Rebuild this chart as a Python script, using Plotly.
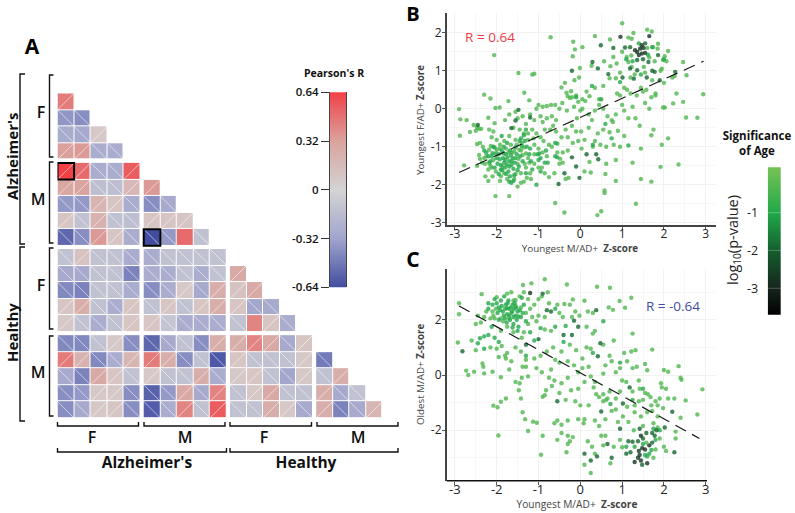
import numpy as np
import plotly.graph_objects as go

W, H = 795, 513

# ---------- Panel A: correlation matrix (lower triangle) ----------
R_rows = [
 [0.45],
 [-0.37,-0.4],
 [-0.27,-0.29,0.08],
 [0.33,0.35,-0.26,-0.26],
 [0.64,0.5,-0.26,-0.26,0.55],
 [0.3,0.32,-0.14,-0.14,0.18,0.35],
 [-0.36,-0.36,0.2,0.1,-0.26,-0.4,-0.28],
 [0.1,-0.12,0.22,-0.12,-0.14,0.1,0.1,0.1],
 [-0.54,-0.4,0.35,0.1,-0.26,-0.64,-0.36,0.5,-0.12],
 [-0.12,0.12,-0.12,-0.12,-0.26,-0.26,-0.12,-0.12,-0.12,-0.12],
 [-0.28,-0.28,-0.12,-0.12,-0.44,-0.26,-0.26,-0.12,-0.26,-0.12,0.28],
 [-0.42,-0.44,-0.12,-0.12,-0.26,-0.4,-0.26,0.08,-0.28,0.25,0.12,0.28],
 [0.1,0.25,-0.12,-0.26,0.1,-0.12,0.1,-0.12,0.1,0.25,0.1,-0.3,-0.28],
 [0.08,-0.12,-0.26,-0.12,0.1,0.1,-0.1,-0.26,-0.26,-0.26,-0.12,0.42,0.1,-0.26],
 [-0.42,-0.42,-0.12,0.08,-0.4,-0.54,-0.28,-0.12,-0.4,0.25,0.25,0.42,0.28,-0.28,0.1],
 [0.45,0.22,-0.42,-0.26,0.2,0.45,0.25,-0.4,-0.12,-0.6,0.1,-0.12,-0.12,-0.12,0.08,-0.47],
 [-0.28,-0.44,0.28,0.1,-0.12,0.08,-0.12,-0.12,0.25,-0.26,0.08,0.1,-0.12,-0.3,0.08,-0.12,0.25],
 [-0.4,-0.36,0.08,0.08,-0.4,-0.56,-0.36,0.28,-0.28,0.42,-0.12,0.08,0.28,-0.12,-0.12,0.25,-0.28,-0.12],
 [-0.4,-0.28,0.08,0.1,-0.4,-0.58,-0.26,0.42,-0.12,0.55,-0.12,-0.12,0.25,0.08,-0.28,0.25,-0.44,-0.28,0.2],
]
row_blocks = [(0,4),(4,9),(9,14),(14,19)]
col_blocks = [(0,5),(5,10),(10,15),(15,19)]
no_diagonal = [(8,7),(13,11)]
highlighted = [(4,0),(8,5)]
R_ramp_ticks = [-0.64,-0.32,0,0.32,0.64]
R_ramp_labels = ["-0.64","-0.32","0","0.32","0.64"]
P_ticks = [-1,-2,-3]
P_labels = ["-1","-2","-3"]

# ---------- Panels B and C: scatter values (x, y) by significance class ----------
b_black = [(1.36,1.49),(1.43,1.58),(1.51,1.6),(1.47,1.45),(1.55,1.47),(1.65,1.91),(1.31,1.54),(0.96,1.89),(1.47,1.67),(1.4,1.41)]
b_dark = [(1.19,1.62),(1.07,1.61),(1.36,1.28),(1.63,1.23),(1.19,1.06),(1.36,1.01),(1.59,0.82),(1.28,0.79),(1.01,0.82),
 (0.67,0.91),(0.42,1.06),(0.29,1.23),(0.49,1.67),(0.79,1.6),(-0.2,1.0),(1.78,0.97),(1.86,1.41),(2.27,0.97),(1.9,0.75),
 (-1.48,-0.03),(-1.55,-0.31),(-1.2,-0.23),(-2.45,-0.43),(-1.65,-0.51),(0.15,-1.2),(0.38,-1.2),(0.43,-1.33),(-0.2,-1.28),
 (-0.1,-1.52),(-0.52,-1.98),(-0.02,-1.82),(-0.38,-1.7),(1.5,1.3),(1.72,1.0),(1.55,1.72)]
b_mid = [(-2.3,-1.1),(-2.2,-1.25),(-2.15,-1.38),(-2.1,-1.17),(-2.05,-1.02),(-2.0,-1.3),(-1.98,-1.45),(-1.95,-1.2),(-1.9,-1.6),
 (-1.88,-1.1),(-1.85,-1.3),(-1.82,-1.42),(-1.8,-1.55),(-1.78,-1.2),(-1.75,-0.9),(-1.72,-1.65),(-1.7,-1.38),(-1.68,-1.1),
 (-1.65,-1.48),(-1.62,-1.3),(-1.6,-1.9),(-1.58,-1.75),(-1.55,-1.02),(-1.52,-1.2),(-1.5,-1.62),(-1.45,-0.85),(-1.42,-0.78),
 (-1.38,-1.38),(-1.35,-0.7),(-1.3,-0.55),(-1.2,-1.05),(-1.15,-1.6),(-1.05,-2.0),(-1.0,-1.35),(-0.95,-1.3),(-0.85,-1.42),
 (-0.82,-1.1),(-0.78,-1.42),(-0.6,-1.25),(-0.55,-1.28),(-0.6,-0.9),(-0.55,-0.92),(-1.7,-1.92),(-1.65,-1.95),(-1.95,-1.72),
 (-2.08,-1.0),(-1.88,-0.72),(-1.3,-1.7),(-0.95,-1.65),(0.95,0.7),(1.1,1.3),(0.75,-0.78),(0.5,0.25),(0.3,-0.95),(-0.1,0.3),
 (1.15,-0.97),(1.45,0.9),(1.72,1.62),(2.0,1.3),(1.25,1.25),(0.28,0.6),(0.6,-0.4),(1.4,1.72),(1.62,1.42),
 (-2.12,-1.25),(-2.02,-1.18),(-1.93,-1.33),(-1.9,-1.48),(-1.84,-1.18),(-1.8,-1.35),(-1.76,-1.47),(-1.74,-1.28),(-1.7,-1.52),(-1.66,-1.22),
 (-1.64,-1.38),(-1.6,-1.58),(-1.57,-1.42),(-1.55,-1.3),(-1.47,-1.52),(-1.44,-1.25),(-1.4,-0.98),(-1.33,-0.85),(-1.28,-1.0),(-1.22,-1.2),
 (-1.18,-1.38),(-1.02,-1.2),(-0.98,-1.18),(-2.25,-1.15),(-2.18,-1.42),(-2.05,-1.55),(-1.87,-1.62),(-1.77,-1.72),(-1.68,-1.78),(-1.83,-1.0)]
b_light = [(-2.9,-0.01),(-2.87,-0.28),(-2.88,-0.71),(-2.72,-0.3),(-2.64,-0.61),(-2.55,-0.43),(-2.47,-0.5),(-2.5,-0.58),(-2.42,-0.53),
 (-2.37,-0.53),(-2.47,-0.93),(-2.4,-0.9),(-2.33,-1.0),(-2.78,-1.49),(-2.47,-1.5),(-2.35,-1.42),(-2.3,0.37),(-2.15,0.27),(-2.2,-0.24),
 (-2.18,-0.55),(-2.03,0.02),(-2.08,-0.6),(-2.12,-0.75),(-2.05,-0.38),(-2.14,-0.98),(-2.27,-1.78),(-2.2,-1.9),(-2.03,-2.3),(-2.06,1.41),
 (-1.93,0.03),(-1.72,0.2),(-1.8,-0.3),(-1.7,-0.15),(-1.55,-0.08),(-1.48,0.94),(-1.34,0.42),(-1.22,0.22),(-1.15,0.9),(-1.1,0.92),
 (-1.5,-0.25),(-1.38,-0.2),(-1.3,-0.4),(-1.2,-0.15),(-1.1,-0.3),(-1.05,0.0),(-1.0,0.1),(-0.95,-0.2),(-0.9,-0.35),(-1.6,-0.5),
 (-1.45,-0.55),(-1.35,-0.65),(-1.15,-0.55),(-1.05,-0.65),(-0.95,-0.75),(-0.85,-0.55),(-0.71,1.88),(-0.8,0.07),(-0.7,0.1),(-0.6,0.1),
 (-0.5,0.0),(-0.43,0.15),(-0.3,0.33),(-0.25,0.28),(-0.2,0.3),(-0.1,0.35),(-0.45,0.56),(-0.37,0.68),(-0.33,0.42),(-0.22,0.46),
 (-0.14,0.75),(-0.03,0.82),(0.35,1.91),(-0.17,1.76),(0.05,1.62),(-0.13,1.56),(-0.18,1.38),(-0.01,1.07),(0.27,1.13),(0.57,1.25),
 (0.79,1.36),(0.87,1.19),(0.71,1.82),(1.0,2.25),(1.15,1.87),(1.27,1.99),(1.23,1.84),(1.6,2.08),(1.71,2.03),(1.11,1.36),(1.15,1.23),
 (1.23,1.1),(2.1,1.52),(2.02,1.38),(1.98,1.28),(2.06,1.25),(1.86,1.71),(1.74,1.62),(2.46,1.23),(2.54,0.88),(2.26,0.86),(2.3,0.4),
 (2.22,0.14),(2.46,0.18),(2.02,0.03),(1.98,0.03),(2.53,-0.23),(2.8,-0.24),(2.94,0.38),(2.35,-1.47),(1.95,-0.95),(2.1,-0.78),(1.92,-1.53),
 (1.7,-0.7),(1.7,-1.92),(1.45,-1.85),(1.45,-1.05),(1.33,-2.5),(1.25,-1.42),(0.85,-1.9),(0.85,-1.35),(0.62,-1.45),(0.6,-1.72),(0.58,-2.15),
 (0.58,-2.22),(0.5,-2.7),(0.41,-2.8),(-0.38,-2.73),(-0.6,-2.48),(0.1,-1.65),(0.25,-1.68),(0.3,-1.0),(0.35,-0.85),(0.1,-0.82),(0.02,-0.6),
 (-0.2,-0.45),(-0.35,-0.55),(-0.45,-0.75),(-0.5,-1.45),(-0.3,-1.1),(-0.18,-0.9),(-0.42,-1.15),(-0.58,-0.3),(-0.72,-0.55),(-0.65,-0.45),
 (-0.8,-0.25),(-0.88,-0.85),(-0.75,-0.95),(-0.68,-1.0),(-0.62,-1.7),(-0.48,-1.32),(0.0,-0.05),(0.05,0.0),(0.12,0.2),(0.2,-0.15),(0.28,-0.3),
 (0.35,-0.05),(0.45,0.1),(0.55,0.0),(0.65,-0.2),(0.75,-0.3),(0.85,-0.15),(0.95,0.35),(1.0,0.1),(1.05,-0.05),(1.15,-0.25),(1.25,0.05),
 (1.32,-0.25),(1.42,-0.45),(1.55,0.15),(1.65,0.0),(1.75,-0.55),(1.8,0.35),(1.58,0.5),(1.45,0.55),(1.35,0.35),(1.12,0.5),(1.05,0.55),
 (0.95,0.95),(0.85,0.8),(0.7,0.8),(0.55,0.6),(0.45,0.25),(0.35,0.55),(0.15,0.45),(0.22,0.33),(0.05,0.25),(-0.05,0.18),(-0.15,0.05),
 (-0.08,-0.25),(0.2,-0.5),(0.42,-0.65),(0.55,-0.55),(0.7,-0.62),(0.8,-0.95),(0.95,-1.0),(1.05,-0.72),(0.9,-0.58),(0.78,-0.35),(0.62,-1.0),
 (0.48,-0.95),(0.22,-1.4),(0.03,-1.05),(-0.05,-0.85),(-0.3,-0.75),(-0.1,-0.6),(-0.32,-0.05),(-0.58,-0.6),(-0.68,-0.2),(-0.9,0.05),
 (-1.25,-0.65),(-1.4,-0.9),(-1.25,-0.82),(-1.1,-0.95),(-1.0,-1.05),(-1.1,-1.2),(-1.25,-1.3),(-1.1,-1.45),(-1.0,-1.55),(-1.2,-1.7),(-1.3,-1.55),
 (-1.42,-1.7),(-1.5,-1.45),(-1.42,-1.1),(-1.35,-1.02),(-1.55,-1.72),(-1.5,-2.05),(-1.42,-1.95),(-1.35,-1.92),(-1.7,-2.3),(-1.82,-1.7),
 (-1.92,-1.9),(-2.02,-1.65),(-2.1,-1.78),(-2.12,-1.55),(-2.2,-1.6),(-2.28,-1.45),(-2.25,-1.25),(-2.42,-1.22),(-2.3,-1.3),(-2.18,-1.08),
 (-2.0,-0.82),(-1.92,-0.95),(-1.82,-0.85),(-1.7,-0.72),(-1.55,-0.82),(-1.62,-1.15),(-1.48,-1.32),(-1.3,-1.18),(-1.22,-1.42),(-0.9,-1.15),
 (-0.8,-1.25),(-0.92,-1.55),(-0.85,-1.7),(-0.75,-1.8),(-0.35,-1.85),(-0.28,-1.82),(-0.55,-1.15),(-0.42,-1.42),(1.2,0.82),(1.52,1.1),
 (1.78,1.25),(1.92,1.0),(1.72,0.75),(1.55,0.95),(2.0,0.68),(2.2,0.82),(1.2,0.4),(1.3,0.9),(0.88,0.4),(0.72,1.12),(1.0,1.5),(1.22,1.4),
 (1.65,1.35),(1.85,1.58),(1.95,1.05),(1.6,1.6),(1.8,0.4),(1.7,0.3),(1.5,0.45),
 (-2.4,-1.32),(-2.15,-1.5),(-2.08,-1.35),(-2.0,-1.08),(-1.93,-1.05),(-1.86,-1.52),(-1.78,-1.05),(-1.72,-1.15),(-1.66,-0.95),(-1.58,-1.12),
 (-1.52,-0.95),(-1.46,-1.08),(-1.38,-1.22),(-1.33,-1.45),(-1.28,-1.82),(-1.18,-1.85),(-1.12,-0.78),(-1.58,-1.85),(-1.75,-1.85),(-1.9,-1.78)]

c_black = [(1.4,-2.75),(1.48,-2.65),(1.55,-2.7),(1.38,-3.0),(1.45,-3.1),(1.3,-3.15),(1.42,-2.9),(1.6,-3.2),(1.65,-2.55),(-1.2,2.97),(1.45,-2.2)]
c_dark = [(1.15,-2.4),(1.25,-2.42),(1.38,-2.4),(1.2,-2.8),(1.1,-2.85),(1.5,-2.3),(1.58,-2.1),(1.72,-2.1),(1.82,-2.0),(1.78,-2.2),
 (2.25,-2.8),(2.2,-1.33),(2.02,-1.9),(1.42,-1.95),(1.72,-2.45),(1.48,-3.25),(0.95,-1.95),(1.02,-1.03),(0.65,-2.5),(0.75,-3.0),(0.4,-2.95),
 (0.1,-2.85),(0.25,-3.1),(-0.8,2.35),(-0.9,2.95),(-0.7,2.3),(-0.15,1.97),(-0.2,1.45),(-0.05,1.75),(-1.0,1.3),(-2.82,0.86),(-1.3,1.1),
 (-0.4,1.45),(0.38,2.35),(0.48,1.15),(0.42,0.68),(0.5,-1.32),(-0.55,-0.95),(1.18,-0.45)]
c_mid = [(-2.2,2.4),(-2.1,2.55),(-2.05,2.75),(-1.98,2.25),(-1.95,2.45),(-1.9,2.7),(-1.85,2.3),(-1.82,2.85),(-1.8,2.05),(-1.78,2.55),
 (-1.75,2.2),(-1.72,2.7),(-1.7,2.4),(-1.68,2.0),(-1.65,2.25),(-1.62,2.55),(-1.6,1.85),(-1.58,2.4),(-1.55,2.15),(-1.52,2.0),(-1.5,2.3),
 (-1.48,1.75),(-1.42,2.1),(-1.4,2.8),(-1.35,2.55),(-1.3,1.95),(-2.3,1.4),(-2.2,1.45),(-2.12,1.75),(-2.05,1.35),(-1.95,1.2),(-2.45,1.15),
 (-2.4,1.33),(-2.3,0.95),(-1.2,1.55),(-1.1,1.25),(-0.95,1.7),(-0.6,2.4),(-0.6,1.75),(-0.4,1.2),(-0.35,1.78),(0.55,1.95),(1.8,-2.35),
 (1.9,-2.0),(1.65,-2.85),(1.55,-2.9),(1.7,-2.72),(1.3,-2.6),(1.1,-2.6),(0.72,-1.05),(0.95,0.45),(1.5,-0.5),(1.25,-0.9),(0.3,0.8),(-1.3,0.7),
 (-2.0,2.6),(-1.92,2.35),(-1.88,2.5),(-1.83,2.15),(-1.76,2.42),(-1.74,2.6),(-1.7,2.15),(-1.66,2.45),(-1.63,2.3),(-1.6,2.1),(-1.57,2.6),
 (-1.53,2.45),(-1.48,2.12),(-1.45,2.35),(-1.38,2.25),(-2.2,2.6),(-1.95,2.0),(-1.76,1.9),(-1.62,1.72),(-1.5,1.6),(1.5,-2.5),(1.6,-2.95),(1.75,-1.95)]
c_light = [(-0.85,3.47),(-1.17,3.32),(-1.37,3.26),(-0.32,3.28),(0.4,3.2),(0.71,3.16),(1.22,2.8),(0.94,2.68),(1.07,2.44),(0.68,2.45),(0.78,2.36),
 (0.1,2.69),(-0.18,2.74),(-0.38,2.57),(-2.9,2.6),(-2.9,2.2),(-2.36,2.93),(-2.93,1.18),(-2.73,0.16),(-2.68,0),(-2.54,0.12),(-2.3,0.06),
 (-2.34,0.42),(-2.32,0.3),(-2.1,0.12),(-1.9,-0.08),(-2.08,-1.11),(-1.98,-1.17),(-1.96,-2.19),(-1.9,-0.97),(-1.78,-0.85),(-1.45,-0.3),
 (-1.47,-0.55),(-1.42,-0.85),(-1.38,-1.35),(-1.32,-1.6),(-1.13,-1.69),(-1.04,-1.73),(-1.25,-2.03),(-0.9,-2.2),(-0.94,-2.89),(-0.9,-0.79),
 (-0.85,-0.73),(-0.82,-0.55),(-2.5,1.85),(-2.45,2.15),(-2.38,1.9),(-2.3,2.1),(-2.25,2.3),(-2.15,2.05),(-2.08,2.15),(-2.02,2.4),(-2.0,2.82),
 (-1.9,2.05),(-1.85,1.95),(-1.75,2.95),(-1.65,3.0),(-1.55,2.72),(-1.45,2.85),(-1.35,3.0),(-1.25,2.75),(-1.2,2.4),(-1.1,2.55),(-1.0,2.75),
 (-0.92,2.85),(-0.78,3.0),(-0.75,2.6),(-0.85,2.1),(-1.0,2.15),(-1.15,2.1),(-1.3,2.25),(-1.25,1.85),(-1.05,1.95),(-0.85,1.65),(-0.7,1.6),
 (-0.55,2.55),(-0.5,2.25),(-0.42,2.1),(-0.25,2.55),(-0.2,2.1),(-0.12,2.3),(-0.02,2.15),(0.18,2.3),(0.3,2.25),(0.15,1.75),(0.3,1.5),(0.35,1.6),
 (0.55,1.1),(0.7,0.7),(0.8,1.25),(1.05,0.8),(1.22,0.85),(1.32,0.9),(1.25,1.5),(1.72,0.92),(0.15,1.0),(0.25,0.95),(0.05,0.6),(-0.1,0.9),
 (-0.25,1.1),(-0.45,0.85),(-0.65,1.0),(-0.8,0.85),(-0.95,0.7),(-1.1,0.6),(-1.3,0.55),(-1.3,0.3),(-1.38,0.3),(-1.25,-0.05),(-1.4,-0.1),
 (-1.42,0.85),(-1.55,1.0),(-1.75,0.8),(-1.8,0.7),(-1.78,0.6),(-1.65,0.5),(-1.88,1.05),(-2.0,0.95),(-1.95,0.65),(-1.7,0.2),(-1.55,-0.25),
 (-1.05,0.25),(-0.92,0.1),(-0.7,0.2),(-0.6,0.55),(-0.5,0.45),(-0.3,0.5),(-0.15,0.35),(-0.05,0.1),(0.05,0.25),(0.2,0.3),(0.25,-0.05),(0.35,-0.25),
 (-0.75,-0.1),(-0.68,-0.4),(-0.62,-0.2),(-0.45,-0.3),(-0.3,-0.1),(-0.22,-0.55),(-0.05,-0.5),(0.1,-0.25),(-0.5,-0.65),(-0.35,-0.9),(-0.12,-0.95),
 (0.0,-1.1),(0.2,-1.1),(0.38,-0.7),(0.45,-0.8),(0.55,-0.95),(0.62,-0.9),(0.7,-0.6),(0.75,-1.3),(0.85,-0.85),(0.95,-0.6),(1.0,-0.2),(1.1,-0.25),
 (0.55,0.05),(0.6,0.35),(0.75,0.5),(0.85,0.1),(0.95,0.25),(1.12,0.5),(1.25,0.25),(1.35,0.3),(1.42,-0.5),(1.55,-0.65),(1.62,-0.7),(1.4,-0.95),
 (1.3,-1.1),(1.12,-1.15),(1.02,-1.5),(0.9,-1.7),(0.6,-1.6),(0.45,-1.85),(0.35,-1.65),(-0.05,-1.6),(0.08,-1.75),(0.1,-1.6),(-0.3,-1.65),(-0.55,-1.65),
 (-0.45,-1.8),(-0.62,-1.75),(-0.45,-2.1),(-0.3,-2.2),(-0.25,-2.4),(-0.3,-2.5),(-0.33,-2.8),(-0.18,-2.25),(-0.55,-2.35),(0.18,-2.4),(0.28,-2.6),
 (0.35,-2.85),(0.1,-3.25),(0.25,-3.55),(0.55,-2.55),(0.72,-3.2),(0.8,-2.6),(0.95,-2.35),(1.0,-2.62),(0.5,-2.2),(0.6,-2.2),(1.68,-0.8),(1.72,-1.3),
 (1.75,-1.75),(1.85,-1.5),(1.98,-1.2),(2.1,-0.85),(2.25,-0.85),(2.52,-0.92),(2.4,-1.55),(2.8,-1.43),(2.92,-0.52),(2.4,-0.1),(2.42,-0.17),(2.35,0.32),
 (2.0,0.18),(2.1,0.12),(1.93,-0.3),(1.95,-0.45),(1.8,-0.95),(1.6,0.17),(1.4,-0.2),(1.55,0.4),(2.28,-2.05),(2.28,-2.3),(2.05,-2.75),(2.0,-2.6),(1.8,-2.7),
 (1.75,-3.0),(1.45,-1.5),(1.3,-1.35),(1.15,-1.7),(1.28,-2.0),(1.6,-1.35),(1.7,-1.1),(1.9,-0.85),(2.05,-0.5),(1.5,-0.9),(1.85,-1.9),(1.9,-2.3),
 (1.58,-2.45),(1.5,-1.85),(1.85,-1.1),(1.25,-0.6),(0.85,-1.25),(0.65,-0.85),(0.55,-0.7),(0.32,-0.45),(-1.6,1.55),(-1.75,1.75),(-1.9,1.6),
 (-2.15,1.0),(-2.5,0.9),(-2.6,1.25),(-1.4,1.35),(-1.35,1.55),(-1.6,2.7),(-1.7,2.05),(-1.55,2.5),(-1.42,2.45),(-1.8,2.4),(-2.05,2.05),(-2.1,2.3)]

# class values of log10(p)
P_LIGHT, P_MID, P_DARK, P_BLACK = -0.35, -1.0, -1.9, -2.7

reg_x_B = [-2.9, 2.95]
reg_y_B = [-1.68, 1.25]
reg_x_C = [-2.9, 2.85]
reg_y_C = [2.5, -2.3]

# ---------- helpers ----------
def dx(a, b): return [a / W, b / W]
def dy(top, bottom): return [1 - bottom / H, 1 - top / H]
def px(x): return x / W
def py(y): return 1 - y / H

FONT = "Open Sans"
TXT = "#222222"
r_scale = [[0, "#414da1"], [0.25, "#a0a4cc"], [0.5, "#d4d4d4"], [0.75, "#d9a39e"], [1, "#f24045"]]
g_scale = [[0, "#000000"], [0.18, "#16251b"], [0.44, "#14602e"], [0.69, "#22a84a"], [1, "#76c255"]]
P_MIN, P_MAX = -3.7, 0.2

fig = go.Figure()

GAP = 0.2
def col_pos(c): return c + sum(GAP for _, e in col_blocks[:-1] if c >= e) + 0.5
def row_pos(r): return r + sum(GAP for _, e in row_blocks[:-1] if r >= e) + 0.5
span = 19 + 3 * GAP

for rb in row_blocks:
    for cb in col_blocks:
        z = []
        for r in range(*rb):
            line = []
            for c in range(*cb):
                line.append(R_rows[r][c] if c < len(R_rows[r]) else None)
            z.append(line)
        if all(v is None for l in z for v in l):
            continue
        fig.add_trace(go.Heatmap(z=z, x=[col_pos(c) for c in range(*cb)], y=[row_pos(r) for r in range(*rb)],
                                 coloraxis="coloraxis", xgap=1, ygap=1, hoverinfo="skip", xaxis="x", yaxis="y"))

dxs, dys = [], []
for r, vals in enumerate(R_rows):
    for c, v in enumerate(vals):
        if (r, c) in no_diagonal:
            continue
        x0, y0 = col_pos(c), row_pos(r)
        if v >= 0:
            dxs += [x0 - 0.5, x0 + 0.5, None]; dys += [y0 + 0.5, y0 - 0.5, None]
        else:
            dxs += [x0 - 0.5, x0 + 0.5, None]; dys += [y0 - 0.5, y0 + 0.5, None]
fig.add_trace(go.Scatter(x=dxs, y=dys, mode="lines", line=dict(color="rgba(255,255,255,0.55)", width=1),
                         hoverinfo="skip", showlegend=False, xaxis="x", yaxis="y"))

shapes = []
for r, c in highlighted:
    x0, y0 = col_pos(c), row_pos(r)
    shapes.append(dict(type="rect", xref="x", yref="y", x0=x0 - 0.5, x1=x0 + 0.5, y0=y0 - 0.5, y1=y0 + 0.5,
                       line=dict(color="black", width=2)))

ramp = np.linspace(-0.64, 0.64, 129).tolist()
fig.add_trace(go.Heatmap(z=[[v] for v in ramp], y=ramp, x=[0], coloraxis="coloraxis", hoverinfo="skip", xaxis="x4", yaxis="y4"))

pramp = np.linspace(P_MIN, P_MAX, 100).tolist()
fig.add_trace(go.Heatmap(z=[[v] for v in pramp], y=pramp, x=[0], coloraxis="coloraxis2", hoverinfo="skip", xaxis="x5", yaxis="y5"))
for t in P_ticks:
    shapes.append(dict(type="line", xref="x5", yref="y5", x0=-0.5, x1=0.5, y0=t, y1=t, line=dict(color="rgba(255,255,255,0.25)", width=1)))

def add_scatter(groups, xa, ya):
    xs, ys, ps = [], [], []
    for pts, p in groups:
        for a, b in pts:
            xs.append(a); ys.append(b); ps.append(p)
    fig.add_trace(go.Scatter(x=xs, y=ys, mode="markers", xaxis=xa, yaxis=ya, showlegend=False, hoverinfo="skip",
                             marker=dict(size=4.4, color=ps, coloraxis="coloraxis2", opacity=0.8, line=dict(width=0))))

add_scatter([(b_light, P_LIGHT), (b_mid, P_MID), (b_dark, P_DARK), (b_black, P_BLACK)], "x2", "y2")
add_scatter([(c_light, P_LIGHT), (c_mid, P_MID), (c_dark, P_DARK), (c_black, P_BLACK)], "x3", "y3")
dash = dict(color="#1a1a1a", width=1.2, dash="12px,7px")
fig.add_trace(go.Scatter(x=reg_x_B, y=reg_y_B, mode="lines", line=dash, xaxis="x2", yaxis="y2", showlegend=False, hoverinfo="skip"))
fig.add_trace(go.Scatter(x=reg_x_C, y=reg_y_C, mode="lines", line=dash, xaxis="x3", yaxis="y3", showlegend=False, hoverinfo="skip"))

def path_shape(pts):
    d = "M " + " L ".join(f"{px(a):.5f},{py(b):.5f}" for a, b in pts)
    return dict(type="path", xref="paper", yref="paper", path=d, line=dict(color="#111111", width=1.4))
def lbr(x, t, b, w=4):
    return path_shape([(x + w, t), (x, t), (x, b), (x + w, b)])
def bbr(l, r, t, d=4):
    return path_shape([(l, t), (l, t + d), (r, t + d), (r, t)])

shapes += [lbr(20, 74, 244, 5), lbr(20, 247, 421, 5), lbr(49.5, 75, 157), lbr(49.5, 162, 243), lbr(49.5, 248, 329), lbr(49.5, 336, 416),
           bbr(57.5, 138.5, 422), bbr(144, 225, 422), bbr(230, 311.5, 422), bbr(317, 398, 422), bbr(57.5, 226.5, 448), bbr(230, 398, 448)]
shapes.append(path_shape([(446.7, 480.7), (707, 480.7)]))

# Horizontal labels live on a full-page hidden axis pair
def label(text, x, y, size=12, color=TXT, weight=None):
    f = dict(size=size, color=color, family=FONT)
    if weight:
        f["weight"] = weight
    fig.add_trace(go.Scatter(x=[x], y=[y + size * 0.13], text=[text], mode="text", textposition="middle center", textfont=f,
                             cliponaxis=False, showlegend=False, hoverinfo="skip", xaxis="x6", yaxis="y6"))

for args in [
    ("A", 32, 46, 21, "#000", 700), ("B", 413, 13, 20, "#000", 700), ("C", 413, 259, 21, "#000", 700),
    ("F", 41, 112, 16, "#111", 600), ("M", 38, 199, 16, "#111", 600), ("F", 41, 285, 16, "#111", 600), ("M", 38, 372, 16, "#111", 600),
    ("F", 92, 437, 16, "#111", 600), ("M", 185, 437, 16, "#111", 600), ("F", 264, 437, 16, "#111", 600), ("M", 358, 437, 16, "#111", 600),
    ("Alzheimer's", 147, 462, 15.5, "#111", 700), ("Healthy", 306, 462, 15.5, "#111", 700),
    ("Pearson's R", 334, 73, 10.5, "#111", 700),
    ("Significance<br>of Age", 757, 143, 11.5, "#111", 700),
    ("R = 0.64", 490, 37, 13.5, "#ee3b3f", 500),
    ("R = -0.64", 673, 306, 13.5, "#3f4da0", 500),
    ("Youngest M/AD+  <b>Z-score</b>", 580, 248, 9.8, "#444"),
    ("Youngest M/AD+  <b>Z-score</b>", 577, 504, 10.2, "#444"),
]:
    label(*args)

def ann(text, x, y, size=12, color=TXT, weight=None):
    f = dict(size=size, color=color, family=FONT)
    if weight:
        f["weight"] = weight
    return dict(text=text, x=px(x), y=py(y), xref="paper", yref="paper", showarrow=False, font=f, textangle=-90,
                xanchor="center", yanchor="middle")

annotations = [
    ann("Alzheimer's", 12, 157, 15, "#111", 700), ann("Healthy", 12, 333, 15, "#111", 700),
    ann("log<sub>10</sub>(p-value)", 733, 240, 14.5, "#222", 400),
    ann("Youngest F/AD+ <b>Z-score</b>", 420, 120, 9.8, "#444"),
    ann("Oldest M/AD+ <b>Z-score</b>", 420, 375, 9.8, "#444"),
]

def sc_x(dom, line, size, standoff):
    vals = [-3, -2, -1, 0, 1, 2, 3]
    return dict(domain=dom, range=[-3.196, 3.246], tickvals=vals, ticktext=[str(v) for v in vals], ticks="outside", ticklen=3,
                tickcolor="#555", showline=line, linecolor="#444", linewidth=1.5, showgrid=True, gridcolor="#f1f1f1", gridwidth=1,
                zeroline=False, tickfont=dict(size=size, family=FONT, color="#222"), ticklabelstandoff=standoff, automargin=False,
                minor=dict(showgrid=True, gridcolor="#f7f7f7", tickvals=[-2.5, -1.5, -0.5, 0.5, 1.5, 2.5]))
def sc_y(dom, rng, vals, minor):
    return dict(domain=dom, range=rng, tickvals=vals, ticktext=[str(v) for v in vals], ticks="outside", ticklen=3, tickcolor="#555",
                showline=True, linecolor="#444", linewidth=1.5, showgrid=True, gridcolor="#f1f1f1", gridwidth=1, zeroline=False,
                tickfont=dict(size=12, family=FONT, color="#222"), automargin=False, ticklabelstandoff=-2,
                minor=dict(showgrid=True, gridcolor="#f7f7f7", tickvals=minor))

xa2 = sc_x(dx(446.7, 716), True, 12, -6); xa2["anchor"] = "y2"
xa3 = sc_x(dx(446.7, 716), False, 13, -6); xa3["anchor"] = "y3"
ya2 = sc_y(dy(13.3, 225), [-3.06, 2.51], [-3, -2, -1, 0, 1, 2], [-2.5, -1.5, -0.5, 0.5, 1.5]); ya2["anchor"] = "x2"
ya3 = sc_y(dy(269.3, 480.7), [-3.83, 3.83], [-2, 0, 2], [-3, -1, 1, 3]); ya3["anchor"] = "x3"

fig.update_layout(
    template="none",
    width=W, height=H, margin=dict(l=0, r=0, t=0, b=0, pad=0), paper_bgcolor="white", plot_bgcolor="rgba(0,0,0,0)", showlegend=False,
    font=dict(family=FONT, color=TXT),
    coloraxis=dict(colorscale=r_scale, cmin=-0.64, cmax=0.64, showscale=False),
    coloraxis2=dict(colorscale=g_scale, cmin=P_MIN, cmax=P_MAX, showscale=False),
    xaxis=dict(domain=dx(57.5, 382.5), range=[0, span], visible=False, anchor="y", automargin=False),
    yaxis=dict(domain=dy(93.3, 418), range=[span, 0], visible=False, anchor="x", automargin=False),
    xaxis2=xa2, yaxis2=ya2, xaxis3=xa3, yaxis3=ya3,
    xaxis4=dict(domain=dx(330, 346), range=[-0.5, 0.5], visible=False, anchor="y4", automargin=False),
    yaxis4=dict(domain=dy(92.3, 287.3), range=[-0.64, 0.64], tickvals=R_ramp_ticks, ticktext=R_ramp_labels, ticks="outside", ticklen=8,
                tickcolor="#333", tickfont=dict(size=11.5, family=FONT, color="#111", weight=600), showgrid=False, zeroline=False,
                showline=True, linecolor="#444", linewidth=1, mirror=True, anchor="x4", automargin=False),
    xaxis5=dict(domain=dx(767.7, 781), range=[-0.5, 0.5], visible=False, anchor="y5", automargin=False),
    yaxis5=dict(domain=dy(167.3, 314.7), range=[P_MIN, P_MAX], tickvals=P_ticks, ticktext=P_labels, ticks="outside", ticklen=6,
                tickcolor="rgba(0,0,0,0)", tickfont=dict(size=12.5, family=FONT, color="#222"), showgrid=False, zeroline=False,
                showline=False, anchor="x5", automargin=False),
    xaxis6=dict(domain=[0, 1], range=[0, W], visible=False, anchor="y6", automargin=False),
    yaxis6=dict(domain=[0, 1], range=[H, 0], visible=False, anchor="x6", automargin=False),
    shapes=shapes, annotations=annotations,
)

fig.write_html("out.html", config=dict(displayModeBar=False),
               post_script="document.body.style.margin='0';document.body.style.overflow='hidden';")
